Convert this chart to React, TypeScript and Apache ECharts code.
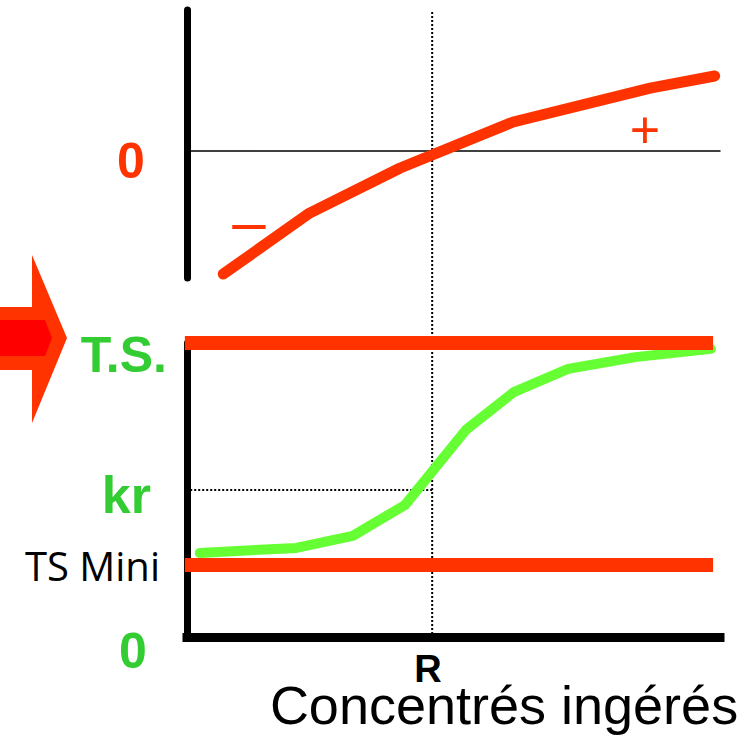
import React, { useEffect, useRef } from "react";
import * as echarts from "echarts";

// x positions share one scale for both panels (0..100)
const R_VALUE = 46;

// Top panel: effect (negative → positive), zero line crossing at R
const topCurveX = [6.8, 23, 40, 61.2, 86.9, 99];
const topCurveY = [-4.36, -2.2, -0.6, 1.03, 2.23, 2.66];

// Bottom panel: sigmoid response between TS Mini and T.S.
const TS_VALUE = 100;
const TS_MINI_VALUE = 24.5;
const KR_VALUE = 50;
const greenCurveX = [2.4, 20.5, 31.1, 40.9, 52.3, 61.3, 71.5, 84.1, 98.3];
const greenCurveY = [28.6, 30.3, 34.4, 44.9, 70.4, 83.3, 91.2, 95.2, 98.0];

const RED = "#ff3300";
const GREEN_LINE = "#66ff33";
const GREEN_TEXT = "#33cc33";

export default function App() {
  const ref = useRef<HTMLDivElement | null>(null);

  useEffect(() => {
    if (!ref.current) return;
    const chart = echarts.init(ref.current, null, { renderer: "svg" });

    const hiddenAxisParts = {
      axisTick: { show: false },
      axisLabel: { show: false },
      splitLine: { show: false },
    };

    const option: any = {
      animation: false,
      backgroundColor: "#ffffff",
      grid: [
        { left: 187, top: 10, width: 533, height: 268 },
        { left: 187, top: 343, width: 533, height: 294 },
      ],
      xAxis: [
        {
          type: "value",
          gridIndex: 0,
          min: 0,
          max: 100,
          ...hiddenAxisParts,
          axisLine: { show: true, onZero: true, lineStyle: { color: "#000", width: 1.5 } },
        },
        {
          type: "value",
          gridIndex: 1,
          min: 0,
          max: 100,
          ...hiddenAxisParts,
          axisLine: { show: true, lineStyle: { color: "#000", width: 9, cap: "square" } },
        },
      ],
      yAxis: [
        {
          type: "value",
          gridIndex: 0,
          min: -4.5,
          max: 5,
          ...hiddenAxisParts,
          axisLine: { show: true, lineStyle: { color: "#000", width: 7 } },
        },
        {
          type: "value",
          gridIndex: 1,
          min: 0,
          max: 100,
          ...hiddenAxisParts,
          axisLine: { show: true, lineStyle: { color: "#000", width: 7 } },
        },
      ],
      series: [
        {
          type: "line",
          xAxisIndex: 0,
          yAxisIndex: 0,
          clip: false,
          symbol: "none",
          z: 1,
          data: [
            [R_VALUE, 4.93],
            [R_VALUE, -17.33],
          ],
          lineStyle: { color: "#000", width: 2, type: [2, 2] },
        },
        {
          type: "line",
          xAxisIndex: 0,
          yAxisIndex: 0,
          symbol: "none",
          z: 3,
          data: topCurveX.map((x, i) => [x, topCurveY[i]]),
          lineStyle: { color: RED, width: 11, cap: "round", join: "round" },
        },
        {
          type: "line",
          xAxisIndex: 1,
          yAxisIndex: 1,
          symbol: "none",
          z: 1,
          data: [
            [0.6, KR_VALUE],
            [R_VALUE, KR_VALUE],
          ],
          lineStyle: { color: "#000", width: 2, type: [2, 2] },
        },
        {
          type: "line",
          xAxisIndex: 1,
          yAxisIndex: 1,
          symbol: "none",
          z: 2,
          data: greenCurveX.map((x, i) => [x, greenCurveY[i]]),
          lineStyle: { color: GREEN_LINE, width: 10, cap: "round", join: "round" },
        },
        {
          type: "line",
          xAxisIndex: 1,
          yAxisIndex: 1,
          symbol: "none",
          clip: false,
          z: 3,
          data: [
            [-0.4, TS_VALUE],
            [98.7, TS_VALUE],
          ],
          lineStyle: { color: RED, width: 14 },
        },
        {
          type: "line",
          xAxisIndex: 1,
          yAxisIndex: 1,
          symbol: "none",
          clip: false,
          z: 3,
          data: [
            [-0.4, TS_MINI_VALUE],
            [98.7, TS_MINI_VALUE],
          ],
          lineStyle: { color: RED, width: 14 },
        },
      ],
      graphic: [
        {
          type: "polygon",
          shape: {
            points: [
              [0, 307],
              [32, 307],
              [32, 255],
              [67, 338],
              [32, 423],
              [32, 370],
              [0, 370],
            ],
          },
          style: { fill: RED },
        },
        {
          type: "polygon",
          shape: {
            points: [
              [0, 320],
              [45, 320],
              [52, 338],
              [45, 356],
              [0, 356],
            ],
          },
          style: { fill: "#ff0000" },
        },
        {
          type: "text",
          x: 131,
          y: 161,
          style: {
            text: "0",
            fill: RED,
            font: "bold 50px 'Liberation Sans', Arial, sans-serif",
            align: "center",
            verticalAlign: "middle",
          },
        },
        {
          type: "text",
          x: 249,
          y: 221,
          style: {
            text: "–",
            fill: RED,
            font: "60px 'Liberation Sans', Arial, sans-serif",
            align: "center",
            verticalAlign: "middle",
          },
        },
        {
          type: "text",
          x: 645,
          y: 130,
          style: {
            text: "+",
            fill: RED,
            font: "52px 'Liberation Sans', Arial, sans-serif",
            align: "center",
            verticalAlign: "middle",
          },
        },
        {
          type: "text",
          x: 167,
          y: 355,
          style: {
            text: "T.S.",
            fill: GREEN_TEXT,
            font: "bold 50px 'Liberation Sans', Arial, sans-serif",
            align: "right",
            verticalAlign: "middle",
          },
        },
        {
          type: "text",
          x: 151,
          y: 495,
          style: {
            text: "kr",
            fill: GREEN_TEXT,
            font: "bold 52px 'Liberation Sans', Arial, sans-serif",
            align: "right",
            verticalAlign: "middle",
          },
        },
        {
          type: "text",
          x: 160,
          y: 565,
          style: {
            text: "TS Mini",
            fill: "#000",
            font: "40px 'Open Sans', sans-serif",
            align: "right",
            verticalAlign: "middle",
          },
        },
        {
          type: "text",
          x: 133,
          y: 651,
          style: {
            text: "0",
            fill: GREEN_TEXT,
            font: "bold 50px 'Liberation Sans', Arial, sans-serif",
            align: "center",
            verticalAlign: "middle",
          },
        },
        {
          type: "text",
          x: 428,
          y: 669,
          style: {
            text: "R",
            fill: "#000",
            font: "bold 38px 'Liberation Sans', Arial, sans-serif",
            align: "center",
            verticalAlign: "middle",
          },
        },
        {
          type: "text",
          x: 504,
          y: 705,
          style: {
            text: "Concentrés ingérés",
            fill: "#000",
            font: "54px 'Liberation Sans', Arial, sans-serif",
            align: "center",
            verticalAlign: "middle",
          },
        },
      ],
    };

    chart.setOption(option);
    return () => chart.dispose();
  }, []);

  return (
    <div
      ref={ref}
      style={{ position: "fixed", left: 0, top: 0, width: 751, height: 736, background: "#fff" }}
    />
  );
}
